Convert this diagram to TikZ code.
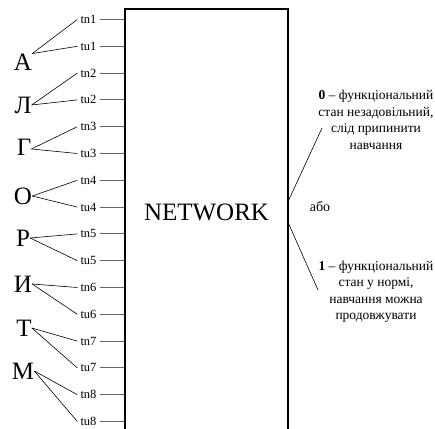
\documentclass[tikz,border=0pt]{standalone}
\usepackage{fontspec}
\setmainfont{Liberation Serif}
\usepackage{xcolor}
\definecolor{stubgray}{rgb}{0.4,0.4,0.4}
\usepackage{tikz}
\usetikzlibrary{calc,positioning}
\tikzset{
    letter/.style={
    inner sep=0pt,font=\fontsize{25}{25}\selectfont
    },
    inp/.style={
    inner sep=3pt,font=\fontsize{12.5}{12.5}\selectfont
    },
    netbox/.style={
    rectangle,draw=black,line width=1.5pt,minimum width=163pt,minimum height=421pt
    },
  expl/.style={align=center, inner sep=0pt, font=\fontsize{13.5}{16.5}\selectfont},
  line/.style={draw, line width=0.6pt},
  stub/.style={draw=stubgray, line width=0.9pt}
}
\begin{document}
\begin{tikzpicture}[x=1pt,y=-1pt]
    \useasboundingbox (0,0) rectangle (435,428);

    \node[netbox,label={[name=nett,yshift=7pt,font=\fontsize{25}{25}\selectfont]center:NETWORK}] (net) at (206.5,219.5) {};

    \node[inp] (tn1) at (88.5,19.5) {tn1};
    \node[inp,below of=tn1,node distance=26.8pt] (tu1) {tu1};
    \node[inp,below of=tu1,node distance=26.8pt] (tn2) {tn2};
    \node[inp,below of=tn2,node distance=26.8pt] (tu2) {tu2};
    \node[inp,below of=tu2,node distance=26.8pt] (tn3) {tn3};
    \node[inp,below of=tn3,node distance=26.8pt] (tu3) {tu3};
    \node[inp,below of=tu3,node distance=26.8pt] (tn4) {tn4};
    \node[inp,below of=tn4,node distance=26.8pt] (tu4) {tu4};
    \node[inp,below of=tu4,node distance=26.8pt] (tn5) {tn5};
    \node[inp,below of=tn5,node distance=26.8pt] (tu5) {tu5};
    \node[inp,below of=tu5,node distance=26.8pt] (tn6) {tn6};
    \node[inp,below of=tn6,node distance=26.8pt] (tu6) {tu6};
    \node[inp,below of=tu6,node distance=26.8pt] (tn7) {tn7};
    \node[inp,below of=tn7,node distance=26.8pt] (tu7) {tu7};
    \node[inp,below of=tu7,node distance=26.8pt] (tn8) {tn8};
    \node[inp,below of=tn8,node distance=26.8pt] (tu8) {tu8};

    \node[letter] (la) at (23,62) {А};
    \node[letter] (ll) at (23,105) {Л};
    \node[letter] (lg) at (24,147) {Г};
    \node[letter] (lo) at (23,196) {О};
    \node[letter] (lr) at (23,238) {Р};
    \node[letter] (li) at (23,284) {И};
    \node[letter] (lt) at (24,328) {Т};
    \node[letter] (lm) at (23,371) {М};

    \node[expl] (zero) at (376,120) {\textbf{0} – функціональний\\стан незадовільний,\\слід припинити\\навчання};
    \node[expl] (one) at (376,292) {\textbf{1} – функціональний\\стан у нормі,\\навчання можна\\продовжувати};
    \node[inner sep=0pt,font=\fontsize{14}{14}\selectfont] (abo) at (320,207) {або};

    \coordinate (up) at (322,128);
    \coordinate (dn) at (318,290);

    \begin{scope} [every path/.style=stub]
      \path (tn1.east) -- (tn1.east -| net.west);
      \path (tu1.east) -- (tu1.east -| net.west);
      \path (tn2.east) -- (tn2.east -| net.west);
      \path (tu2.east) -- (tu2.east -| net.west);
      \path (tn3.east) -- (tn3.east -| net.west);
      \path (tu3.east) -- (tu3.east -| net.west);
      \path (tn4.east) -- (tn4.east -| net.west);
      \path (tu4.east) -- (tu4.east -| net.west);
      \path (tn5.east) -- (tn5.east -| net.west);
      \path (tu5.east) -- (tu5.east -| net.west);
      \path (tn6.east) -- (tn6.east -| net.west);
      \path (tu6.east) -- (tu6.east -| net.west);
      \path (tn7.east) -- (tn7.east -| net.west);
      \path (tu7.east) -- (tu7.east -| net.west);
      \path (tn8.east) -- (tn8.east -| net.west);
      \path (tu8.east) -- (tu8.east -| net.west);
    \end{scope}

    \begin{scope} [every path/.style=line]
      \path (la.north east) -- (tn1.west);
      \path (la.north east) -- (tu1.west);
      \path (ll.east) -- (tn2.west);
      \path (ll.east) -- (tu2.west);
      \path (lg.-15) -- (tn3.west);
      \path (lg.-15) -- (tu3.west);
      \path (lo.east) -- (tn4.west);
      \path (lo.east) -- (tu4.west);
      \path (lr.east) -- (tn5.west);
      \path (lr.east) -- (tu5.west);
      \path (li.east) -- (tn6.west);
      \path (li.east) -- (tu6.west);
      \path (lt.east) -- (tn7.west);
      \path (lt.east) -- (tu7.west);
      \path (lm.east) -- (tn8.west);
      \path (lm.east) -- (tu8.west);

      \path ([yshift=19.5pt]net.east) -- (up);
      \path ([yshift=-4.5pt]net.east) -- (dn);
    \end{scope}

  \end{tikzpicture}
\end{document}
